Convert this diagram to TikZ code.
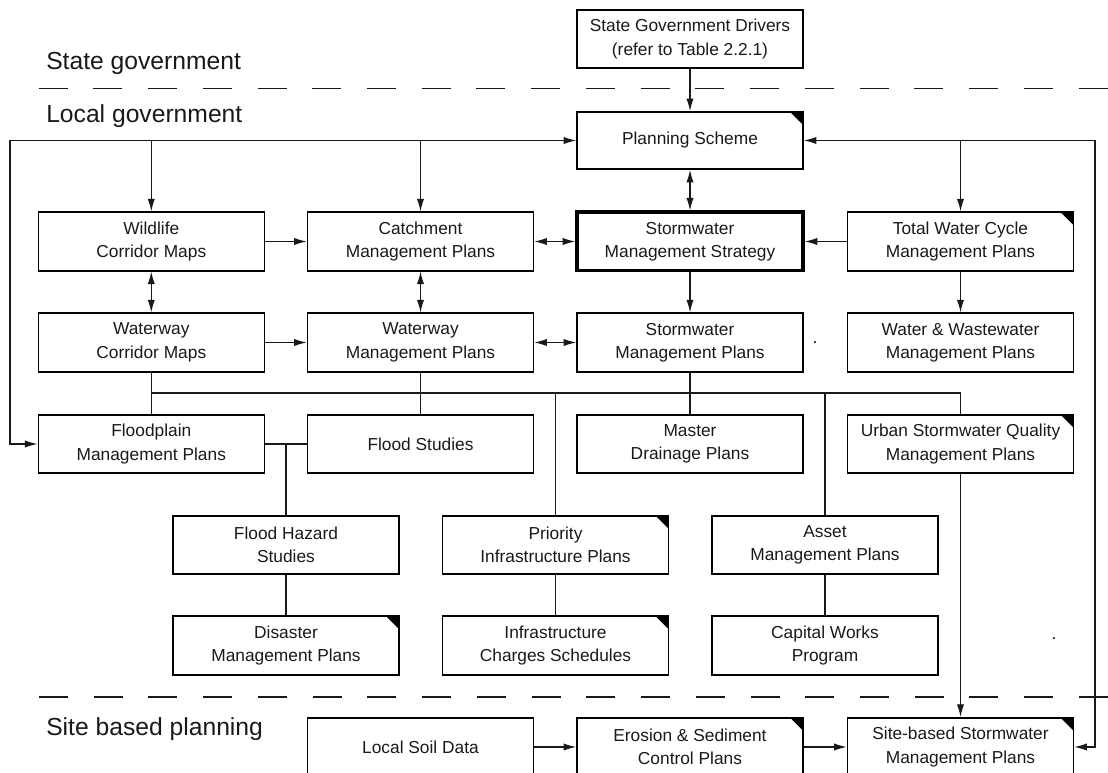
\documentclass[tikz,border=0pt]{standalone}
\usepackage{fontspec}
\setmainfont{Liberation Sans}
\usetikzlibrary{arrows.meta}
\begin{document}
\begin{tikzpicture}[x=0.75pt,y=-0.75pt,
  box/.style={draw=black, line width=1.2pt, minimum width=169.5pt, minimum height=43.9pt, inner sep=0pt, align=center, font=\fontsize{13}{17.5}\selectfont, text=black!90},
  ear/.style={path picture={\fill[black] (path picture bounding box.north east) -- ++(-13,0) -- ++(13,13) -- cycle;}},
  thick box/.style={line width=2.6pt},
  conn/.style={line width=0.9pt, draw=black!90},
  arr/.style={conn,-{Latex[length=9.5pt,width=5.5pt]}},
  darr/.style={conn,{Latex[length=9.5pt,width=5.5pt]}-{Latex[length=9.5pt,width=5.5pt]}},
  sep/.style={line width=1pt, draw=black!90, dash pattern=on 21.75pt off 19.3pt},
  lab/.style={anchor=base west, font=\fontsize{18.5}{22}\selectfont, inner sep=0pt, text=black!90},
  dot/.style={font=\fontsize{13}{15}\selectfont, inner sep=0pt}
]
\clip (0,0) rectangle (1108,773);

% labels
\node[lab] (lstate) at (46,70) {State government};
\node[lab] (llocal) at (46,123) {Local government};
\node[lab] (lsite) at (46,735) {Site based planning};

% separators
\draw[sep] (38.6,88.3) -- (1108,88.3);
\draw[sep] (39,697) -- (1108,697);

% boxes
\node[box] (drv) at (690,39) {State Government Drivers\\(refer to Table 2.2.1)};
\node[box,ear,minimum height=42.75pt] (plan) at (690,140.5) {Planning Scheme};

\node[box] (wild) at (151.3,241.5) {Wildlife\\Corridor Maps};
\node[box] (catch) at (420.5,241.5) {Catchment\\Management Plans};
\node[box,thick box] (strat) at (690,241.5) {Stormwater\\Management Strategy};
\node[box,ear] (twc) at (960.5,241.5) {Total Water Cycle\\Management Plans};

\node[box] (wcm) at (151.3,342.5) {Waterway\\Corridor Maps};
\node[box] (wmp) at (420.5,342.5) {Waterway\\Management Plans};
\node[box] (smp) at (690,342.5) {Stormwater\\Management Plans};
\node[box] (wwm) at (960.5,342.5) {Water \& Wastewater\\Management Plans};

\node[box] (fp) at (151.3,444) {Floodplain\\Management Plans};
\node[box] (fs) at (420.5,444) {Flood Studies};
\node[box] (mdp) at (690,444) {Master\\Drainage Plans};
\node[box,ear] (usq) at (960.5,444) {Urban Stormwater Quality\\Management Plans};

\node[box] (haz) at (286,545) {Flood Hazard\\Studies};
\node[box,ear] (pri) at (555.5,545) {Priority\\Infrastructure Plans};
\node[box] (asset) at (825,545) {Asset\\Management Plans};

\node[box,ear] (dis) at (286,645.5) {Disaster\\Management Plans};
\node[box,ear] (inf) at (555.5,645.5) {Infrastructure\\Charges Schedules};
\node[box] (cap) at (825,645.5) {Capital Works\\Program};

\node[box] (soil) at (420.5,747) {Local Soil Data};
\node[box,ear] (ero) at (690,747) {Erosion \& Sediment\\Control Plans};
\node[box,ear] (site) at (960.5,747) {Site-based Stormwater\\Management Plans};

% stray dots
\node[dot] (d1) at (815,343) {.};
\node[dot] (d2) at (1054,639) {.};

% helper coordinates
\coordinate (tl) at (10,140.5);
\coordinate (tr) at (1095,140.5);
\coordinate (busy) at (0,393);

% connectors
\draw[arr] (drv) -- (plan);
\draw[arr] (tl) -- (plan.west);
\draw[arr] (tr) -- (plan.east);
\draw[arr] (tl) |- (fp.west);
\draw[arr] (tr) |- (site.east);
\draw[arr] (wild.north |- tl) -- (wild.north);
\draw[arr] (catch.north |- tl) -- (catch.north);
\draw[arr] (twc.north |- tr) -- (twc.north);
\draw[darr] (plan) -- (strat);

\draw[arr] (wild) -- (catch);
\draw[darr] (catch) -- (strat);
\draw[arr] (twc) -- (strat);
\draw[darr] (wild) -- (wcm);
\draw[darr] (catch) -- (wmp);
\draw[arr] (strat) -- (smp);
\draw[arr] (twc) -- (wwm);
\draw[arr] (wcm) -- (wmp);
\draw[darr] (wmp) -- (smp);

\draw[conn] (wcm) -- (fp);
\draw[conn] (wmp) -- (fs);
\draw[conn] (smp) -- (mdp);
\draw[conn] (wcm.south |- busy) -- (usq.north |- busy) -- (usq.north);
\draw[conn] (pri.north |- busy) -- (pri.north);
\draw[conn] (asset.north |- busy) -- (asset.north);
\draw[conn] (fp) -- (fs);
\draw[conn] (haz.north |- fp.east) -- (haz.north);
\draw[conn] (haz) -- (dis);
\draw[conn] (pri) -- (inf);
\draw[conn] (asset) -- (cap);
\draw[arr] (usq) -- (site);
\draw[arr] (soil) -- (ero);
\draw[arr] (ero) -- (site);
\end{tikzpicture}
\end{document}
